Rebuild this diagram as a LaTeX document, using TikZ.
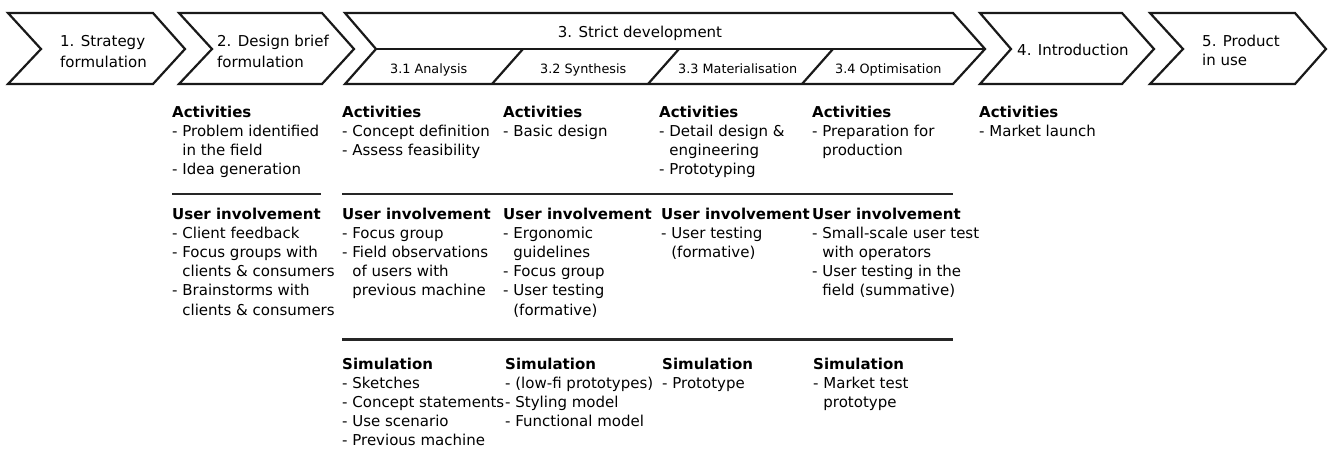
\documentclass[tikz,border=0pt]{standalone}
\usepackage{fontspec}
\setmainfont{DejaVu Sans}
\newcommand\hangx{\hphantom{- }}
\newcommand\mkblock[5]{%
  \node[hd] (#1) at (#2,#3) {#4};
  \foreach \t [count=\i] in {#5} \node[txt] (#1-\i) at ({#2},{#3+\i*19.2}) {\t};
}
\begin{document}
\begin{tikzpicture}[x=1pt,y=-1pt,
  chev/.style={draw=black!90, line width=2.2pt, line join=miter},
  rule/.style={draw=black!85, line width=2.8pt},
  txt/.style={anchor=base west, inner sep=0pt, font=\fontsize{15}{18}\selectfont},
  hd/.style={txt, font=\fontsize{15}{18}\selectfont\bfseries},
  sub/.style={anchor=base west, inner sep=0pt, font=\fontsize{12.8}{15}\selectfont}]
\useasboundingbox (0,0) rectangle (1331,448);
% chevrons
\draw[chev] (8,13) -- (153,13) -- (185,49) -- (153,84) -- (8,84) -- (41,49) -- cycle;
\draw[chev] (179,13) -- (322,13) -- (354,49) -- (322,84) -- (179,84) -- (212,49) -- cycle;
\draw[chev] (345,13) -- (953,13) -- (985,49) -- (953,84) -- (345,84) -- (376,49) -- cycle;
\draw[chev] (376,49) -- (985,49);
\draw[chev] (492,84) -- (523,49);
\draw[chev] (648,84) -- (679,49);
\draw[chev] (802,84) -- (833,49);
\draw[chev] (980,13) -- (1122,13) -- (1154,49) -- (1122,84) -- (980,84) -- (1011,49) -- cycle;
\draw[chev] (1150,13) -- (1295,13) -- (1326,49) -- (1295,84) -- (1150,84) -- (1183,49) -- cycle;
% chevron labels
\node[txt] (s1a) at (60,46.5) {1. Strategy};
\node[txt] (s1b) at (60,67) {formulation};
\node[txt] (s2a) at (217,46.5) {2. Design brief};
\node[txt] (s2b) at (217,67) {formulation};
\node[txt, anchor=base] (s3) at (640,37.5) {3. Strict development};
\node[sub] (s31) at (390,73) {3.1 Analysis};
\node[sub] (s32) at (540,73) {3.2 Synthesis};
\node[sub] (s33) at (678,73) {3.3 Materialisation};
\node[sub] (s34) at (835,73) {3.4 Optimisation};
\node[txt] (s4) at (1017,55) {4. Introduction};
\node[txt] (s5a) at (1202,46) {5. Product};
\node[txt] (s5b) at (1202,65.5) {in use};
% rules
\draw[rule] (172,194) -- (321,194);
\draw[rule] (342,194) -- (953,194);
\draw[rule] (342,339.5) -- (953,339.5);
% column 1
\mkblock{a1}{172}{117}{Activities}{{- Problem identified},{\hangx in the field},{- Idea generation}}
\mkblock{u1}{172}{219}{User involvement}{{- Client feedback},{- Focus groups with},{\hangx clients \& consumers},{- Brainstorms with},{\hangx clients \& consumers}}
% column 2
\mkblock{a2}{342}{117}{Activities}{{- Concept definition},{- Assess feasibility}}
\mkblock{u2}{342}{219}{User involvement}{{- Focus group},{- Field observations},{\hangx of users with},{\hangx previous machine}}
\mkblock{m2}{342}{369}{Simulation}{{- Sketches},{- Concept statements},{- Use scenario},{- Previous machine}}
% column 3
\mkblock{a3}{503}{117}{Activities}{{- Basic design}}
\mkblock{u3}{503}{219}{User involvement}{{- Ergonomic},{\hangx guidelines},{- Focus group},{- User testing},{\hangx (formative)}}
\mkblock{m3}{505}{369}{Simulation}{{- (low-fi prototypes)},{- Styling model},{- Functional model}}
% column 4
\mkblock{a4}{659}{117}{Activities}{{- Detail design \&},{\hangx engineering},{- Prototyping}}
\mkblock{u4}{661}{219}{User involvement}{{- User testing},{\hangx (formative)}}
\mkblock{m4}{662}{369}{Simulation}{{- Prototype}}
% column 5
\mkblock{a5}{812}{117}{Activities}{{- Preparation for},{\hangx production}}
\mkblock{u5}{812}{219}{User involvement}{{- Small-scale user test},{\hangx with operators},{- User testing in the},{\hangx field (summative)}}
\mkblock{m5}{813}{369}{Simulation}{{- Market test},{\hangx prototype}}
% column 6
\mkblock{a6}{979}{117}{Activities}{{- Market launch}}
\end{tikzpicture}
\end{document}
